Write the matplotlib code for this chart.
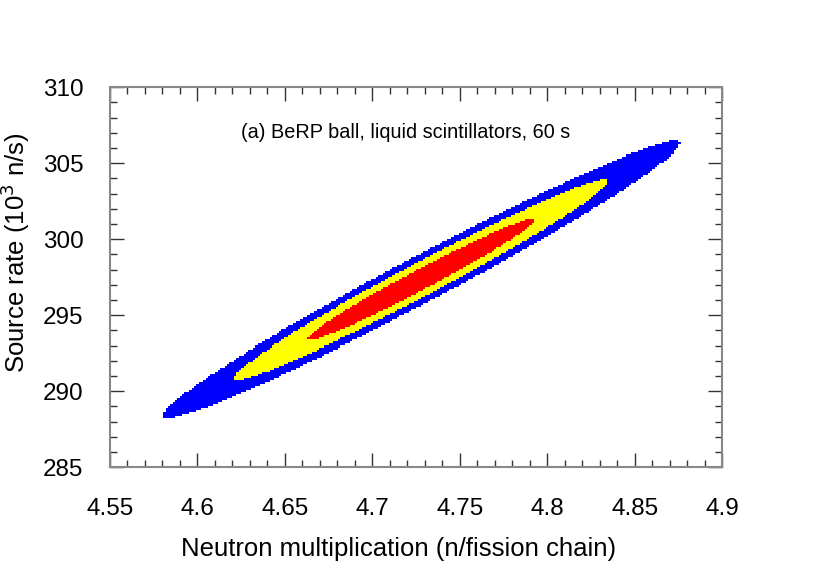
import numpy as np
import matplotlib.pyplot as plt
from matplotlib.colors import ListedColormap, BoundaryNorm
from matplotlib.ticker import MultipleLocator

plt.rcParams['font.family'] = ['Liberation Sans', 'DejaVu Sans']

# best fit and uncertainties
fit_mult = 4.728        # n/fission chain
fit_rate = 297.35       # 10^3 n/s
sigma_mult = 0.0430
sigma_rate = 2.65
correlation = 0.982

# delta chi2 for 1, 2, 3 sigma (2 parameters)
conf_levels = [2.30, 6.18, 11.83]
conf_colors = ['red', 'yellow', 'blue']

label_text = '(a) BeRP ball, liquid scintillators, 60 s'
xtick_labels = ['4.55', '4.6', '4.65', '4.7', '4.75', '4.8', '4.85', '4.9']

# likelihood surface on a coarse grid
mult = np.linspace(4.55, 4.90, 260)
rate = np.linspace(285, 310, 190)
M, R = np.meshgrid(mult, rate)
u = (M - fit_mult) / sigma_mult
v = (R - fit_rate) / sigma_rate
chi2 = (u**2 - 2 * correlation * u * v + v**2) / (1 - correlation**2)

region = np.full(chi2.shape, np.nan)
for i, lev in enumerate(sorted(conf_levels, reverse=True)):
    region[chi2 < lev] = i
region = np.ma.masked_invalid(region)

cmap = ListedColormap(conf_colors[::-1])
norm = BoundaryNorm([-0.5, 0.5, 1.5, 2.5], cmap.N)

fig = plt.figure(figsize=(8.3, 5.81), dpi=100)
ax = fig.add_axes([0.1325, 0.196, 0.7375, 0.654])
ax.pcolormesh(M, R, region, cmap=cmap, norm=norm, shading='nearest')

ax.set_xlim(4.55, 4.90)
ax.set_ylim(285, 310)
ax.set_xticks(np.arange(4.55, 4.91, 0.05))
ax.set_xticklabels(xtick_labels)
ax.xaxis.set_minor_locator(MultipleLocator(0.01))
ax.yaxis.set_major_locator(MultipleLocator(5))
ax.yaxis.set_minor_locator(MultipleLocator(1))

ax.tick_params(which='both', direction='in', top=True, right=True,
               labelsize=17.5, color='#333333')
ax.tick_params(axis='x', pad=22)
ax.tick_params(axis='y', pad=19)
ax.tick_params(which='major', length=10, width=1)
ax.tick_params(which='minor', length=5, width=1)
for sp in ax.spines.values():
    sp.set_color('#888888')
    sp.set_linewidth(1.5)

ax.set_xlabel('Neutron multiplication (n/fission chain)', fontsize=18.5)
ax.xaxis.set_label_coords(0.472, -0.183)
ax.set_ylabel('Source rate (10$^3$ n/s)', fontsize=18.5)
ax.yaxis.set_label_coords(-0.127, 0.563)

ax.text(4.625, 307.0, label_text, fontsize=14.3, ha='left', va='center')

fig.savefig('out.png', dpi=100)
